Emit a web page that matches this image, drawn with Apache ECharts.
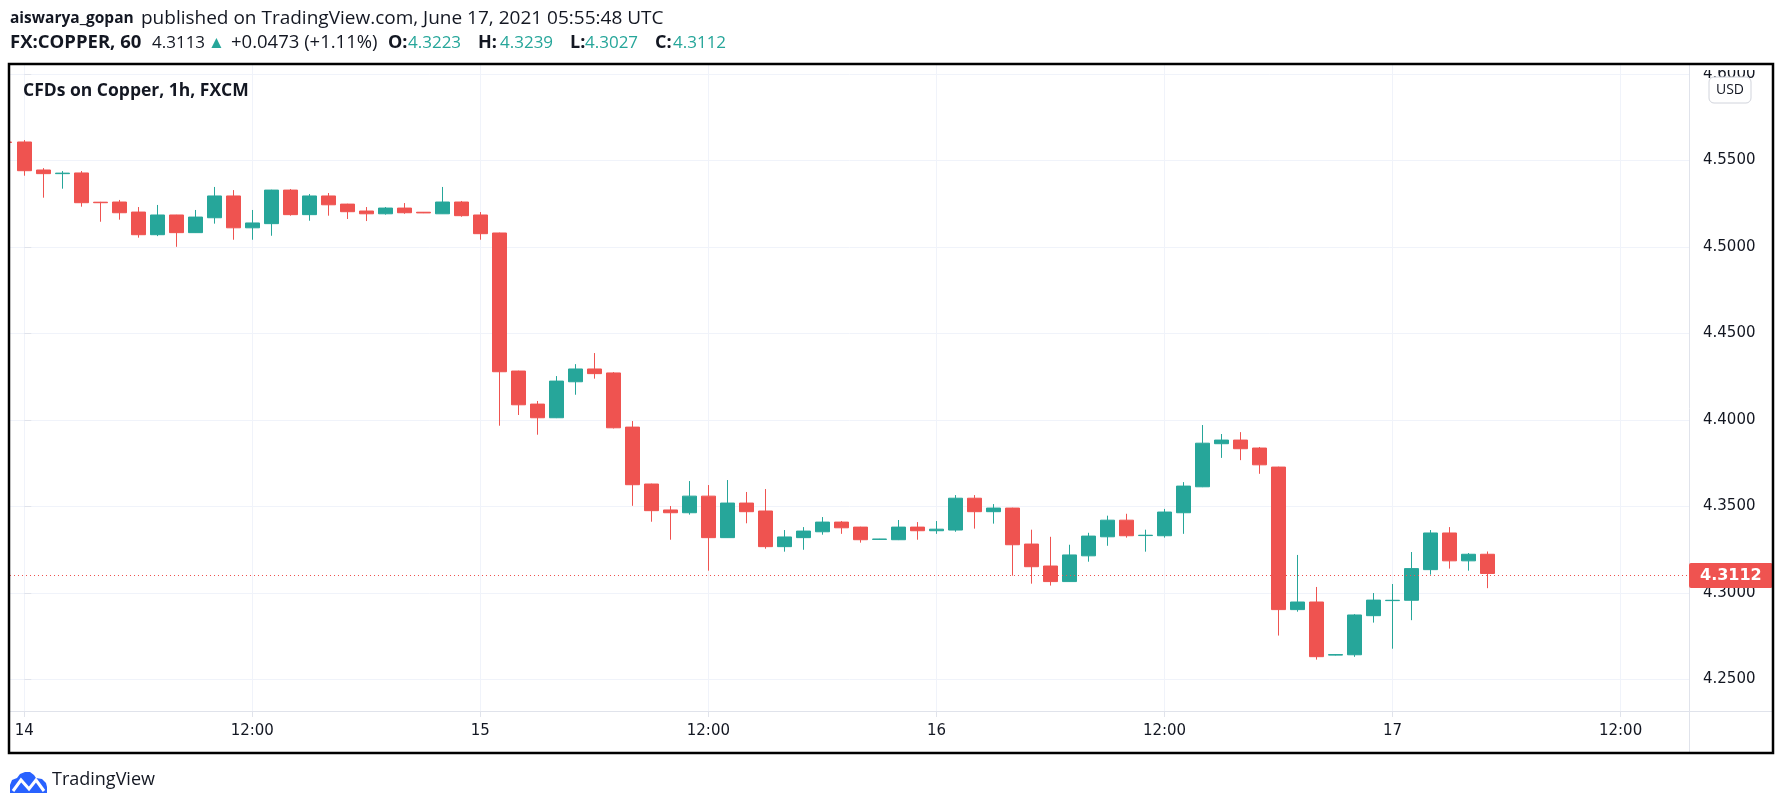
<!DOCTYPE html>
<html>
<head>
<meta charset="utf-8">
<script src="https://cdn.jsdelivr.net/npm/echarts@6/dist/echarts.min.js"></script>
<style>
  html, body { margin: 0; padding: 0; background: #fff; }
  #chart { width: 1783px; height: 809px; }
</style>
</head>
<body>
<div id="chart"></div>
<script>
// hourly bars, first one is 2021-06-13 23:00 UTC (x = -1 means one hour before June 14 00:00)
const firstBarHour = -1;

const opens = [
  4.5606, 4.5606, 4.5444, 4.5423, 4.5427, 4.5258, 4.5259, 4.5201, 4.5070, 4.5184,
  4.5082, 4.5168, 4.5294, 4.5110, 4.5134, 4.5328, 4.5186, 4.5294, 4.5247, 4.5207,
  4.5191, 4.5224, 4.5200, 4.5191, 4.5259, 4.5184, 4.5080, 4.4282, 4.4091, 4.4012,
  4.4220, 4.4294, 4.4271, 4.3958, 4.3629, 4.3479, 4.3463, 4.3559, 4.3319, 4.3519,
  4.3473, 4.3267, 4.3319, 4.3353, 4.3409, 4.3380, 4.3309, 4.3307, 4.3380, 4.3359,
  4.3363, 4.3547, 4.3469, 4.3490, 4.3282, 4.3155, 4.3065, 4.3214, 4.3324, 4.3420,
  4.3331, 4.3330, 4.3463, 4.3613, 4.3862, 4.3883, 4.3837, 4.3727, 4.2903, 4.2947,
  4.2640, 4.2642, 4.2868, 4.2955, 4.2957, 4.3134, 4.3346, 4.3185, 4.3223
];
const closes = [
  4.5603, 4.5440, 4.5423, 4.5426, 4.5255, 4.5255, 4.5197, 4.5070, 4.5184, 4.5082,
  4.5172, 4.5294, 4.5110, 4.5138, 4.5328, 4.5186, 4.5294, 4.5243, 4.5203, 4.5191,
  4.5224, 4.5197, 4.5196, 4.5259, 4.5180, 4.5076, 4.4278, 4.4087, 4.4012, 4.4224,
  4.4294, 4.4267, 4.3954, 4.3625, 4.3475, 4.3463, 4.3559, 4.3319, 4.3519, 4.3469,
  4.3267, 4.3323, 4.3357, 4.3409, 4.3376, 4.3307, 4.3311, 4.3380, 4.3359, 4.3368,
  4.3547, 4.3469, 4.3490, 4.3278, 4.3151, 4.3065, 4.3219, 4.3328, 4.3420, 4.3330,
  4.3333, 4.3467, 4.3617, 4.3865, 4.3883, 4.3833, 4.3740, 4.2903, 4.2947, 4.2631,
  4.2643, 4.2872, 4.2958, 4.2957, 4.3140, 4.3346, 4.3185, 4.3223, 4.3112
];
const lows = [
  4.5600, 4.5411, 4.5284, 4.5336, 4.5232, 4.5145, 4.5157, 4.5053, 4.5062, 4.5000,
  4.5080, 4.5134, 4.5041, 4.5041, 4.5064, 4.5180, 4.5151, 4.5180, 4.5161, 4.5149,
  4.5186, 4.5191, 4.5195, 4.5190, 4.5174, 4.5041, 4.3966, 4.4028, 4.3914, 4.4010,
  4.4145, 4.4238, 4.3950, 4.3503, 4.3411, 4.3307, 4.3452, 4.3128, 4.3317, 4.3402,
  4.3255, 4.3238, 4.3249, 4.3336, 4.3341, 4.3290, 4.3308, 4.3305, 4.3307, 4.3341,
  4.3353, 4.3371, 4.3400, 4.3099, 4.3053, 4.3042, 4.3063, 4.3180, 4.3272, 4.3319,
  4.3238, 4.3319, 4.3341, 4.3611, 4.3780, 4.3767, 4.3688, 4.2753, 4.2891, 4.2614,
  4.2638, 4.2630, 4.2828, 4.2677, 4.2842, 4.3105, 4.3140, 4.3128, 4.3027
];
const highs = [
  4.5608, 4.5617, 4.5455, 4.5438, 4.5438, 4.5260, 4.5271, 4.5230, 4.5242, 4.5185,
  4.5213, 4.5346, 4.5328, 4.5213, 4.5330, 4.5334, 4.5305, 4.5311, 4.5249, 4.5230,
  4.5230, 4.5253, 4.5201, 4.5346, 4.5265, 4.5201, 4.5082, 4.4284, 4.4109, 4.4253,
  4.4322, 4.4386, 4.4276, 4.3993, 4.3631, 4.3502, 4.3646, 4.3623, 4.3652, 4.3583,
  4.3600, 4.3363, 4.3380, 4.3438, 4.3415, 4.3382, 4.3312, 4.3421, 4.3409, 4.3415,
  4.3565, 4.3565, 4.3513, 4.3492, 4.3365, 4.3324, 4.3278, 4.3347, 4.3446, 4.3457,
  4.3365, 4.3485, 4.3640, 4.3970, 4.3918, 4.3929, 4.3843, 4.3729, 4.3219, 4.3034,
  4.2645, 4.2877, 4.2999, 4.3051, 4.3236, 4.3363, 4.3380, 4.3230, 4.3239
];

// x axis ticks (hours from June 14 00:00) and their labels
const timeTicks = [0, 12, 24, 36, 48, 60, 72, 84];
const timeLabels = ['14', '12:00', '15', '12:00', '16', '12:00', '17', '12:00'];
const priceTicks = [4.25, 4.30, 4.35, 4.40, 4.45, 4.50, 4.55, 4.60];

const lastPrice = '4.3113';
const change = '+0.0473 (+1.11%)';

const UP = '#26a69a';
const DOWN = '#ef5350';
const TEXT = '#131722';
const GRID = '#f0f3fa';
const AXIS = '#e0e3eb';

const bars = opens.map((o, i) => [firstBarHour + i, o, closes[i], lows[i], highs[i]]);
const n = opens.length - 1;
const fmt = v => v.toFixed(4);

// small helper for the header pieces
const headerText = (x, y, text, color, bold, size) => ({
    type: 'text', x: x, y: y, z: 10,
    style: {
        text: text, fill: color, fontFamily: 'Open Sans', fontSize: size,
        fontWeight: bold ? 'bold' : 'normal', verticalAlign: 'middle'
    }
});

const chart = echarts.init(document.getElementById('chart'));

const option = {
    animation: false,
    backgroundColor: '#fff',
    textStyle: { fontFamily: 'DejaVu Sans' },
    grid: { left: 10, right: 94, top: 65, bottom: 98 },
    xAxis: {
        type: 'value',
        min: -0.75,
        max: 87.6,
        axisLine: { show: false },
        axisTick: { show: true, length: 6, lineStyle: { color: AXIS }, customValues: timeTicks },
        axisLabel: {
            customValues: timeTicks,
            margin: 13,
            fontSize: 15,
            color: TEXT,
            fontFamily: 'DejaVu Sans',
            formatter: v => timeLabels[timeTicks.indexOf(v)]
        },
        splitLine: { show: true, lineStyle: { color: GRID, width: 1 } }
    },
    yAxis: {
        type: 'value',
        position: 'right',
        min: 4.2317,
        max: 4.6051,
        axisLine: { show: false },
        axisTick: { show: true, length: 7, lineStyle: { color: AXIS }, customValues: priceTicks },
        axisLabel: {
            customValues: priceTicks,
            margin: 14,
            fontSize: 15,
            color: TEXT,
            fontFamily: 'DejaVu Sans',
            formatter: v => fmt(v)
        },
        splitLine: { show: true, lineStyle: { color: GRID, width: 1 } }
    },
    series: [{
        type: 'candlestick',
        data: bars,
        barWidth: 14,
        itemStyle: {
            color: UP,
            color0: DOWN,
            borderColor: UP,
            borderColor0: DOWN,
            borderWidth: 1
        },
        markLine: {
            silent: true,
            symbol: ['none', 'none'],
            data: [{ yAxis: closes[n] }],
            lineStyle: { color: DOWN, type: [1, 3], width: 1 },
            label: {
                show: true,
                position: 'end',
                distance: 0,
                formatter: () => fmt(closes[n]),
                color: '#fff',
                fontWeight: 'bold',
                fontSize: 16,
                fontFamily: 'DejaVu Sans',
                backgroundColor: DOWN,
                borderRadius: 2,
                padding: [5, 11, 4, 11]
            }
        }
    }],
    graphic: [
        // header, line 1
        headerText(10, 19, 'aiswarya_gopan', TEXT, true, 15.5),
        headerText(141, 19, 'published on TradingView.com, June 17, 2021 05:55:48 UTC', TEXT, false, 19),
        // header, line 2
        headerText(10, 43, 'FX:COPPER, 60', TEXT, true, 18.5),
        headerText(152, 43, lastPrice, TEXT, false, 17),
        headerText(208, 43, '▲', UP, false, 17),
        headerText(231, 43, change, TEXT, false, 18.5),
        headerText(388, 43, 'O:', TEXT, true, 18),
        headerText(408, 43, fmt(opens[n]), UP, false, 17),
        headerText(478, 43, 'H:', TEXT, true, 18),
        headerText(500, 43, fmt(highs[n]), UP, false, 17),
        headerText(570, 43, 'L:', TEXT, true, 18),
        headerText(585, 43, fmt(lows[n]), UP, false, 17),
        headerText(655, 43, 'C:', TEXT, true, 18),
        headerText(673, 43, fmt(closes[n]), UP, false, 17),
        // pane title
        {
            type: 'text', x: 23, y: 91, z: 10,
            style: { text: 'CFDs on Copper, 1h, FXCM', fontFamily: 'Open Sans', fontWeight: 'bold', fontSize: 17.5, fill: TEXT, verticalAlign: 'middle' }
        },
        // hide the part of the first bar that falls left of the frame
        { type: 'rect', z: 15, shape: { x: 0, y: 60, width: 8.5, height: 700 }, style: { fill: '#fff' } },
        // top of the 4.6000 label is cut by the pane edge
        { type: 'rect', z: 15, shape: { x: 1690, y: 65, width: 82, height: 5 }, style: { fill: '#fff' } },
        // separators between plot and axes
        { type: 'line', z: 5, shape: { x1: 1689.5, y1: 64, x2: 1689.5, y2: 753 }, style: { stroke: AXIS, lineWidth: 1 } },
        { type: 'line', z: 5, shape: { x1: 9, y1: 711.5, x2: 1773, y2: 711.5 }, style: { stroke: AXIS, lineWidth: 1 } },
        // USD badge
        {
            type: 'rect', z: 10,
            shape: { x: 1709, y: 77, width: 42, height: 26, r: 5 },
            style: { fill: 'rgba(255,255,255,0.85)', stroke: '#d1d4dc', lineWidth: 1 }
        },
        {
            type: 'text', z: 11, x: 1730, y: 90,
            style: { text: 'USD', fontFamily: 'Open Sans', fontSize: 14, fill: TEXT, align: 'center', verticalAlign: 'middle' }
        },
        // frame
        {
            type: 'rect', z: 20,
            shape: { x: 9, y: 64, width: 1764, height: 689 },
            style: { fill: 'none', stroke: '#000', lineWidth: 2.5 }
        },
        // TradingView logo
        {
            type: 'polygon', z: 10,
            shape: { points: [[10, 793], [10, 785], [12, 780], [17, 778], [20, 774], [25, 772], [30, 772],
                              [34, 775], [36, 778], [42, 779], [46, 783], [47, 787], [47, 793]] },
            style: { fill: '#2962ff' }
        },
        {
            type: 'polyline', z: 11,
            shape: { points: [[13, 791], [21, 780], [29, 789], [36, 780], [44, 791]] },
            style: { stroke: '#fff', lineWidth: 3, fill: 'none' }
        },
        {
            type: 'text', left: 52, top: 771, z: 10,
            style: { text: 'TradingView', fontFamily: 'Open Sans', fontSize: 18, fill: TEXT }
        }
    ]
};

chart.setOption(option);
</script>
</body>
</html>
